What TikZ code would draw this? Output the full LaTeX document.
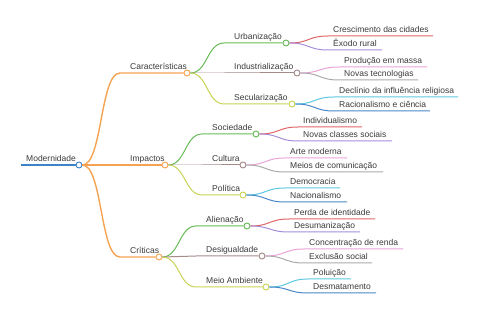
\documentclass[tikz,border=0pt]{standalone}
\usepackage{fontspec}
\setmainfont{Liberation Sans}
\definecolor{cRoot}{HTML}{3C83C8}
\definecolor{cOra}{HTML}{F5A352}
\definecolor{cGrn}{HTML}{66BB55}
\definecolor{cBrn}{HTML}{A58A8A}
\definecolor{cYel}{HTML}{C8D255}
\definecolor{cRed}{HTML}{E06666}
\definecolor{cPur}{HTML}{A58FD8}
\definecolor{cPnk}{HTML}{E9A3D8}
\definecolor{cGry}{HTML}{AAAAAA}
\definecolor{cCya}{HTML}{5CC8E0}
\definecolor{cBlu}{HTML}{4A88C8}
\definecolor{cTxt}{HTML}{3A3A3A}
\tikzset{
  lbl/.style={anchor=base west,inner sep=0pt,text=cTxt,font=\fontsize{8.5}{10}\selectfont},
  dot/.style={circle,draw=#1,fill=white,inner sep=0pt,minimum size=6pt,line width=0.9pt},
  conn/.style={draw=#1,line width=1pt},
  thick conn/.style={draw=#1,line width=1.4pt},
}
\newcommand\mmmid[9]{%
  \coordinate (#2s) at (#4,#5);
  \node[dot=#3] (#2) at (#6,#5) {};
  \node[lbl] (#2t) at (#4+10,#5-3.5) {#7};
  \draw[#9=#3] (#1.east) .. controls +(#8,0) and +(-#8,0) .. (#2s) -- (#2.west);
}
\newcommand\mmleaf[7]{%
  \coordinate (#2s) at (#4-5,#5);
  \coordinate (#2e) at (#6,#5);
  \node[lbl] (#2) at (#4,#5-3.5) {#7};
  \draw[conn=#3] (#1.east) .. controls +(20,0) and +(-20,0) .. (#2s) -- (#2e);
}
\begin{document}
\begin{tikzpicture}[x=1pt,y=-1pt]
\useasboundingbox (0,0) rectangle (480,320);
% root
\coordinate (rootL) at (21,165);
\node[dot=cRoot] (root) at (79,165) {};
\node[lbl] (roott) at (26,161.5) {Modernidade};
\draw[thick conn=cRoot] (rootL) -- (root.west);
% level 1
\mmmid{root}{car}{cOra}{120}{73}{187}{Características}{20}{thick conn}
\mmmid{root}{imp}{cOra}{120}{165}{165}{Impactos}{20}{thick conn}
\mmmid{root}{cri}{cOra}{120}{257}{159}{Críticas}{20}{thick conn}
% level 2
\mmmid{car}{urb}{cGrn}{224}{43}{286}{Urbanização}{17}{conn}
\mmmid{car}{ind}{cBrn}{224}{73}{297}{Industrialização}{17}{conn}
\mmmid{car}{sec}{cYel}{224}{104}{292}{Secularização}{17}{conn}
\mmmid{imp}{soc}{cGrn}{202}{134}{256}{Sociedade}{17}{conn}
\mmmid{imp}{cul}{cBrn}{202}{165}{243}{Cultura}{17}{conn}
\mmmid{imp}{pol}{cYel}{202}{195}{243}{Política}{17}{conn}
\mmmid{cri}{ali}{cGrn}{196}{226}{247}{Alienação}{17}{conn}
\mmmid{cri}{des}{cBrn}{196}{256}{262}{Desigualdade}{17}{conn}
\mmmid{cri}{mei}{cYel}{196}{287}{266}{Meio Ambiente}{17}{conn}
% level 3
\mmleaf{urb}{l1}{cRed}{333}{36}{433}{Crescimento das cidades}
\mmleaf{urb}{l2}{cPur}{333}{50}{382}{Êxodo rural}
\mmleaf{ind}{l3}{cPnk}{344}{67}{427}{Produção em massa}
\mmleaf{ind}{l4}{cGry}{344}{80}{418}{Novas tecnologias}
\mmleaf{sec}{l5}{cCya}{339}{97}{458}{Declínio da influência religiosa}
\mmleaf{sec}{l6}{cBlu}{339}{111}{430}{Racionalismo e ciência}
\mmleaf{soc}{l7}{cRed}{303}{127}{362}{Individualismo}
\mmleaf{soc}{l8}{cPur}{303}{141}{392}{Novas classes sociais}
\mmleaf{cul}{l9}{cPnk}{290}{158}{347}{Arte moderna}
\mmleaf{cul}{l10}{cGry}{290}{172}{383}{Meios de comunicação}
\mmleaf{pol}{l11}{cCya}{290}{188}{340}{Democracia}
\mmleaf{pol}{l12}{cBlu}{290}{202}{347}{Nacionalismo}
\mmleaf{ali}{l13}{cRed}{294}{219}{375}{Perda de identidade}
\mmleaf{ali}{l14}{cPur}{294}{232}{360}{Desumanização}
\mmleaf{des}{l15}{cPnk}{309}{249}{403}{Concentração de renda}
\mmleaf{des}{l16}{cGry}{309}{263}{372}{Exclusão social}
\mmleaf{mei}{l17}{cCya}{313}{279}{351}{Poluição}
\mmleaf{mei}{l18}{cBlu}{313}{293}{376}{Desmatamento}
\end{tikzpicture}
\end{document}
